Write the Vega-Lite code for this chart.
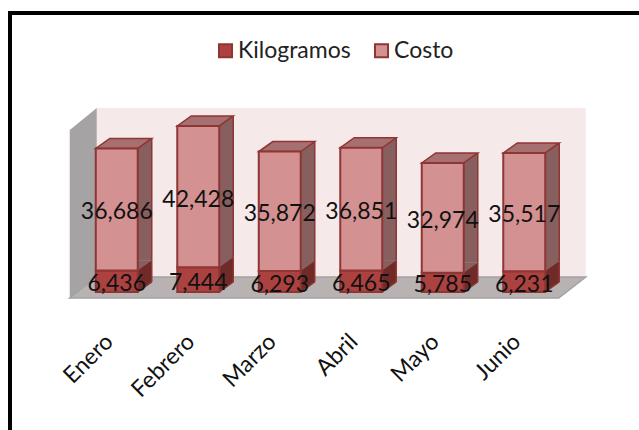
{
"$schema":"https://vega.github.io/schema/vega-lite/v6.json",
"width":632,"height":420,
"padding":{"left":10,"top":13,"right":0,"bottom":0},
"autosize":"none",
"background":"white",
"config":{"view":{"stroke":"#000000","strokeWidth":4},"font":"Lato"},
"data":{"values":[
{"mes":"Enero","serie":"Kilogramos","valor":6436},{"mes":"Enero","serie":"Costo","valor":36686},
{"mes":"Febrero","serie":"Kilogramos","valor":7444},{"mes":"Febrero","serie":"Costo","valor":42428},
{"mes":"Marzo","serie":"Kilogramos","valor":6293},{"mes":"Marzo","serie":"Costo","valor":35872},
{"mes":"Abril","serie":"Kilogramos","valor":6465},{"mes":"Abril","serie":"Costo","valor":36851},
{"mes":"Mayo","serie":"Kilogramos","valor":5785},{"mes":"Mayo","serie":"Costo","valor":32974},
{"mes":"Junio","serie":"Kilogramos","valor":6231},{"mes":"Junio","serie":"Costo","valor":35517}
]},
"transform":[{"stack":"valor","groupby":["mes"],"sort":[{"field":"serie","order":"descending"}],"as":["y0","y1"]}],
"encoding":{
"x":{"field":"mes","type":"nominal","title":null,
"scale":{"type":"band","domain":["Enero","Febrero","Marzo","Abril","Mayo","Junio"],"range":[66,555],"paddingInner":0.485,"paddingOuter":0.2425},
"axis":{"labelAngle":-45,"labelFontSize":23,"labelFont":"Lato","labelColor":"#111111","domain":false,"ticks":false,"offset":-103,"labelPadding":0,"labelOffset":-15,"grid":false}},
"y":{"field":"y1","type":"quantitative","title":null,"scale":{"domain":[0,50750],"range":[279,110],"nice":false,"zero":false},"axis":null}
},
"layer":[
{"transform":[{"filter":"datum.mes==='Enero' && datum.serie==='Kilogramos'"}],"mark":{"type":"point","filled":true,"opacity":1,"size":4,"fill":"#f6e9ea","strokeWidth":0,"shape":"M-20 -184L469 -184L469 -15L-20 -15Z"},"encoding":{"y":{"field":"y0","type":"quantitative"}}},
{"transform":[{"filter":"datum.mes==='Enero' && datum.serie==='Kilogramos'"}],"mark":{"type":"point","filled":true,"opacity":1,"size":4,"fill":"#a5a3a3","strokeWidth":0,"shape":"M-47 -162L-20 -184L-20 -15L-47 6Z"},"encoding":{"y":{"field":"y0","type":"quantitative"}}},
{"transform":[{"filter":"datum.mes==='Enero' && datum.serie==='Kilogramos'"}],"mark":{"type":"point","filled":true,"opacity":1,"size":4,"fill":"#b8b2b2","stroke":"#a3a3a3","strokeWidth":1.5,"shape":"M-47 6L-20 -15L469 -15L442 6Z"},"encoding":{"y":{"field":"y0","type":"quantitative"}}},
{"transform":[{"filter":"datum.serie==='Kilogramos'"}],"mark":{"type":"bar","size":14,"xOffset":28,"yOffset":-10,"y2Offset":-10,"fill":"#702b29"},"encoding":{"y":{"field":"y1","type":"quantitative"},"y2":{"field":"y0"}}},
{"transform":[{"filter":"datum.serie==='Kilogramos'"}],"mark":{"type":"point","filled":true,"opacity":1,"size":4,"fill":"#702b29","strokeWidth":0,"shape":"M21 -10L35 -10L21 0Z"},"encoding":{"y":{"field":"y0","type":"quantitative"}}},
{"transform":[{"filter":"datum.serie==='Costo'"}],"mark":{"type":"bar","size":14,"xOffset":28,"yOffset":-10,"y2Offset":-10,"fill":"#875f5f"},"encoding":{"y":{"field":"y1","type":"quantitative"},"y2":{"field":"y0"}}},
{"transform":[{"filter":"datum.serie==='Costo'"}],"mark":{"type":"point","filled":true,"opacity":1,"size":4,"fill":"#875f5f","strokeWidth":0,"shape":"M21 -10L35 -10L21 0Z"},"encoding":{"y":{"field":"y0","type":"quantitative"}}},
{"mark":{"type":"rule","xOffset":35,"yOffset":-10,"y2Offset":-10,"stroke":"#8f3533","strokeWidth":1.5},"encoding":{"y":{"field":"y1","type":"quantitative"},"y2":{"field":"y0"}}},
{"transform":[{"filter":"datum.serie==='Kilogramos'"}],"mark":{"type":"point","filled":false,"opacity":1,"size":4,"stroke":"#8f3533","strokeWidth":1.5,"shape":"M21 0L35 -10"},"encoding":{"y":{"field":"y0","type":"quantitative"}}},
{"transform":[{"filter":"datum.serie==='Costo'"}],"mark":{"type":"point","filled":true,"opacity":1,"size":4,"fill":"#a67070","stroke":"#8f3533","strokeWidth":1.5,"shape":"M-21 0L21 0L35 -10L-7 -10Z"},"encoding":{"y":{"field":"y1","type":"quantitative"}}},
{"mark":{"type":"bar","stroke":"#8f3533","strokeWidth":2},"encoding":{
"y":{"field":"y1","type":"quantitative"},"y2":{"field":"y0"},
"color":{"field":"serie","type":"nominal","title":null,
"scale":{"domain":["Kilogramos","Costo"],"range":["#ac4240","#d39191"]},
"legend":{"orient":"none","legendX":204,"legendY":26,"direction":"horizontal","title":null,"symbolType":"square","symbolSize":170,"symbolStrokeWidth":2,"labelFontSize":23,"labelFont":"Lato","labelColor":"#222222","columnPadding":19,"labelOffset":1}}}},
{"transform":[{"fold":["y0","y1"],"as":["k","v"]},{"aggregate":[{"op":"mean","field":"v","as":"mid"}],"groupby":["mes","serie","valor"]}],
"mark":{"type":"text","fontSize":23,"font":"Lato","color":"#111111","baseline":"middle","yOffset":3},
"encoding":{"y":{"field":"mid","type":"quantitative"},"text":{"field":"valor","type":"quantitative","format":","}}}
]
}
